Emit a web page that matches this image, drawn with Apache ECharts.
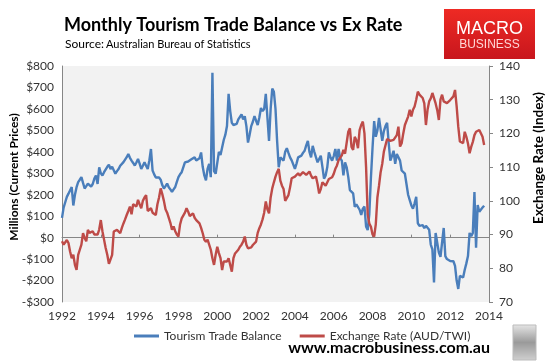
<!DOCTYPE html>
<html><head><meta charset="utf-8">
<script src="https://cdn.jsdelivr.net/npm/echarts/dist/echarts.min.js"></script>
<style>html,body{margin:0;padding:0;background:#fff}#c{width:547px;height:361px}</style>
</head><body><div id="c"></div>
<script>
// Monthly data, January 1992 onwards
const startYear = 1992;
const seriesNames = ['Tourism Trade Balance', 'Exchange Rate (AUD/TWI)'];
const tourismBalance = [
  92,140,165,190,205,210,236,150,200,235,259,270,
  282,255,229,240,252,245,238,250,275,290,250,328,
  300,290,305,313,330,340,320,330,336,298,310,320,
  335,344,352,360,375,390,372,359,348,336,350,367,
  345,320,335,351,335,320,360,413,313,295,280,275,
  280,270,245,229,240,252,235,225,213,225,236,260,
  282,295,305,313,351,352,355,359,365,370,374,360,
  351,370,397,330,290,267,320,344,282,769,310,298,
  295,400,385,420,455,480,520,670,590,535,525,520,
  530,551,545,574,551,566,520,443,480,520,540,566,
  545,525,560,604,590,600,670,560,451,600,695,680,
  600,450,328,374,365,359,400,417,395,374,360,351,
  321,345,374,378,382,395,405,430,451,400,374,428,
  400,375,351,360,382,330,275,290,328,397,375,359,
  380,413,359,413,370,359,290,351,328,282,221,215,
  206,144,155,160,130,106,135,145,52,35,110,280,
  420,543,470,500,558,555,451,497,520,535,440,359,
  380,405,344,390,385,359,313,305,298,290,200,175,
  150,135,160,190,67,55,52,58,44,55,50,37,
  -32,-55,-209,22,22,-70,-90,-94,45,-86,-100,-105,
  -109,-102,-110,-132,-200,-239,-178,-180,-186,-150,-120,-86,
  22,6,22,213,-47,152,121,130,140,149
];
const exchangeRate = [
  88,87,87.5,88.4,87.5,85,83,84,81,79.5,84,85.5,
  87,90.4,89,88,91.4,90.5,90,91,90,89.5,90,91.5,
  94.3,91,88.5,86,84,81.3,81.5,84,90.9,91,91.4,91,
  90.4,92,93.3,94.5,95.8,97,98.3,96,99,99.5,98.3,100.3,
  99,97.8,100,101,101.7,97,96.5,97.8,96.5,96.3,95.8,99,
  101,103.7,102,100,97.5,96.5,96.3,93.5,91.4,92.4,91,90,
  89.4,93,94.8,95.3,96.5,97.8,96.8,95.5,95.8,96.3,95,94.3,
  94,93.3,92,90.4,88.5,87.9,88.5,88.9,85.5,83,81,84,
  86.4,84.5,83,79.5,82,82.3,82,83,83.4,79,83,84.4,
  84.9,85.5,86.4,87,87.9,89.4,87,85.9,85.9,86.2,86.9,87.2,
  87.9,90.5,91.9,93,94.5,96.5,99.8,97.5,96.3,101,103.7,105.5,
  107.2,108.5,109.5,106,104.5,103.5,100,100.5,101.7,104,106.7,107,
  107.2,107.5,108.2,107.5,107.5,108.5,108,107.7,108,108.7,107.5,106.7,
  106.8,107.2,105,102.2,103.5,105.5,105,104.5,104.2,106.5,106.5,107,
  108,109.5,110.5,112.1,112,113.5,115.1,114,113.6,120.5,121.5,116,
  115.1,119,118,115.6,121,122.5,123.5,120,110,96,93.3,92.3,
  90,89.4,93,101,104.5,108.5,111,114.6,116.5,118.3,118.6,117.8,
  117.6,118.1,118.5,119.5,122,116.1,117.1,120,122.5,123,125,127,
  125,127,128,130,132.4,131.5,131,130.5,128.9,122.5,127,129.5,
  130.4,132,131.5,128.9,126.9,124,130,131.5,129.5,129.4,129,129.5,
  129.9,130.2,131,132.9,128,122,117.6,117.3,117.1,120.5,119,117,
  114.1,116,117.5,119.5,120.5,120.5,121,120.5,119,116.6
];
const xRange = [1992, 2014];
const leftRange = [-300, 800];
const rightRange = [70, 140];

const FONT = 'Lato, "Open Sans", sans-serif';
const AXIS = '#868686';
const TXT = '#333';
const toPoints = arr => arr.map((v, i) => [startYear + i / 12, v]);

const chart = echarts.init(document.getElementById('c'));
chart.setOption({
  animation: false,
  backgroundColor: '#ffffff',
  textStyle: { fontFamily: FONT },
  grid: { left: 62, right: 58, top: 66, bottom: 59, show: true, backgroundColor: '#f2f2f2', borderWidth: 0 },
  xAxis: [
    { type: 'value', min: xRange[0], max: xRange[1], interval: 2, position: 'bottom',
      axisLine: { show: true, onZero: true, onZeroAxisIndex: 0, lineStyle: { color: AXIS, width: 1 } },
      axisTick: { show: true, inside: true, length: 3, lineStyle: { color: AXIS } },
      axisLabel: { show: false }, splitLine: { show: false } },
    { type: 'value', min: xRange[0], max: xRange[1], interval: 2, position: 'bottom',
      axisLine: { show: false, onZero: false }, axisTick: { show: false },
      axisLabel: { color: TXT, fontSize: 12, margin: 8, fontFamily: FONT, formatter: v => String(v) },
      splitLine: { show: false } }
  ],
  yAxis: [
    { type: 'value', min: leftRange[0], max: leftRange[1], interval: 100, position: 'left',
      axisLine: { show: true, onZero: false, lineStyle: { color: AXIS } }, axisTick: { show: false },
      axisLabel: { color: TXT, fontSize: 12, margin: 8, fontFamily: FONT, formatter: v => v < 0 ? '-$' + (-v) : '$' + v },
      splitLine: { show: false } },
    { type: 'value', min: rightRange[0], max: rightRange[1], interval: 10, position: 'right',
      axisLine: { show: true, onZero: false, lineStyle: { color: AXIS } },
      axisTick: { show: true, length: 4, lineStyle: { color: AXIS } },
      axisLabel: { color: TXT, fontSize: 12, margin: 10, fontFamily: FONT },
      splitLine: { show: false } }
  ],
  legend: {
    left: 129, top: 325, itemWidth: 25, itemHeight: 3, itemGap: 18, icon: 'rect',
    textStyle: { color: TXT, fontSize: 12, fontFamily: FONT },
    data: seriesNames
  },
  series: [
    { name: seriesNames[0], type: 'line', xAxisIndex: 0, yAxisIndex: 0, data: toPoints(tourismBalance),
      showSymbol: false, symbol: 'none', lineStyle: { color: '#4A7EBB', width: 2.4 }, itemStyle: { color: '#4A7EBB' }, z: 2 },
    { name: seriesNames[1], type: 'line', xAxisIndex: 0, yAxisIndex: 1, data: toPoints(exchangeRate),
      showSymbol: false, symbol: 'none', lineStyle: { color: '#BE4B48', width: 2.4 }, itemStyle: { color: '#BE4B48' }, z: 3 }
  ],
  graphic: [
    { type: 'text', x: 64, y: 25, style: { text: 'Monthly Tourism Trade Balance vs Ex Rate', font: 'bold 18px ' + FONT, fill: '#000', textVerticalAlign: 'middle' } },
    { type: 'text', x: 65, y: 44, style: { text: 'Source:', font: '12px ' + FONT, fill: '#000', textVerticalAlign: 'middle' } },
    { type: 'text', x: 106, y: 44, style: { text: 'Australian Bureau of Statistics', font: '11px ' + FONT, fill: '#000', textVerticalAlign: 'middle' } },
    { type: 'rect', shape: { x: 444, y: 9, width: 91, height: 50 },
      style: { fill: new echarts.graphic.LinearGradient(0, 0, 0, 1, [{ offset: 0, color: '#ee2a24' }, { offset: 1, color: '#c8161d' }]) } },
    { type: 'text', x: 489.5, y: 29, style: { text: 'MACRO', font: '18px "Liberation Sans", Arial, sans-serif', fill: '#ffffff', textAlign: 'center', textVerticalAlign: 'middle' } },
    { type: 'text', x: 489.5, y: 44.5, style: { text: 'BUSINESS', font: '12px "Liberation Sans", Arial, sans-serif', fill: '#ffd6d6', textAlign: 'center', textVerticalAlign: 'middle' } },
    { type: 'text', x: 14, y: 177, rotation: Math.PI / 2, style: { text: 'Millions (Current Prices)', font: 'bold 12px ' + FONT, fill: '#000', textAlign: 'center', textVerticalAlign: 'middle' } },
    { type: 'text', x: 539, y: 158, rotation: Math.PI / 2, style: { text: 'Exchange Rate (Index)', font: 'bold 13.5px ' + FONT, fill: '#000', textAlign: 'center', textVerticalAlign: 'middle' } },
    { type: 'text', x: 490, y: 348, style: { text: 'www.macrobusiness.com.au', font: 'bold 16px ' + FONT, fill: '#000', textAlign: 'right', textVerticalAlign: 'middle' } },
    { type: 'rect', shape: { x: 513, y: 325, width: 23, height: 35 },
      style: { fill: new echarts.graphic.LinearGradient(0, 0, 0, 1, [{ offset: 0, color: '#e6e6e6' }, { offset: 0.5, color: '#9a9a9a' }, { offset: 1, color: '#d0d0d0' }]), stroke: '#bbbbbb', lineWidth: 1 } }
  ]
});
</script>
</body></html>
